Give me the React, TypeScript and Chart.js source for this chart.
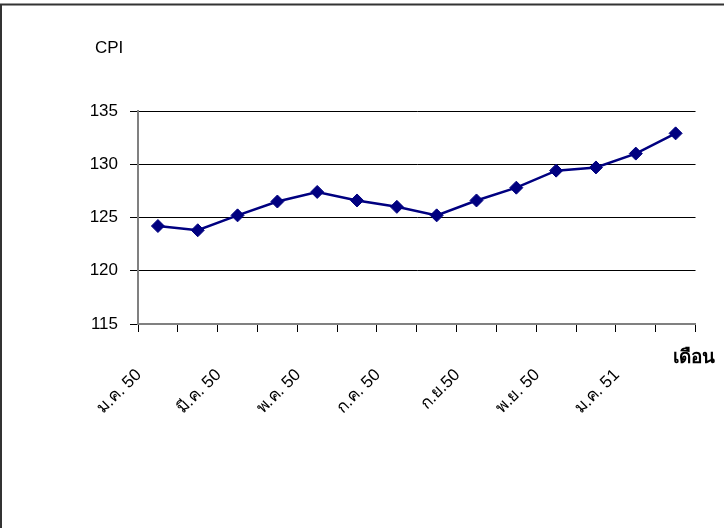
import React, { useEffect, useRef } from "react";
import { Chart, registerables } from "chart.js";

Chart.register(...registerables);

const months: string[] = [
  "ม.ค. 50", "ก.พ. 50", "มี.ค. 50", "เม.ย. 50", "พ.ค. 50", "มิ.ย. 50", "ก.ค. 50",
  "ส.ค. 50", "ก.ย.50", "ต.ค. 50", "พ.ย. 50", "ธ.ค. 50", "ม.ค. 51", "ก.พ. 51",
];
const cpiValues: number[] = [
  124.2, 123.8, 125.2, 126.5, 127.4, 126.6, 126.0, 125.2, 126.6, 127.8, 129.4, 129.7, 131.0, 132.9,
];
const yMin = 115;
const yMax = 135;
const yStep = 5;
const yTitle = "CPI";
const xTitle = "เดือน";

const FONT = "'Liberation Sans', Arial, 'Noto Sans', sans-serif";

export default function App() {
  const ref = useRef<HTMLCanvasElement | null>(null);

  useEffect(() => {
    if (!ref.current) return;
    const decor = {
      id: "decor",
      afterDraw(chart: any) {
        const { ctx, chartArea } = chart;
        ctx.save();
        // frame
        ctx.strokeStyle = "#333";
        ctx.lineWidth = 2;
        ctx.beginPath();
        ctx.moveTo(1, 528);
        ctx.lineTo(1, 4.5);
        ctx.lineTo(724, 4.5);
        ctx.stroke();
        // titles
        ctx.fillStyle = "#000";
        ctx.font = `17px ${FONT}`;
        ctx.textAlign = "left";
        ctx.textBaseline = "alphabetic";
        ctx.fillText(yTitle, chartArea.left - 43, 53);
        ctx.font = `bold 19px ${FONT}`;
        ctx.textAlign = "center";
        ctx.fillText(xTitle, chartArea.right - 2, 363);
        ctx.restore();
      },
    };
    const chart = new Chart(ref.current, {
      type: "line",
      data: {
        labels: months,
        datasets: [
          {
            data: cpiValues,
            borderColor: "#000080",
            backgroundColor: "#000080",
            borderWidth: 2.5,
            pointStyle: "rectRot",
            pointRadius: 6.5,
            pointBorderWidth: 1,
            pointBackgroundColor: "#000080",
            pointBorderColor: "#000080",
            tension: 0,
            fill: false,
          },
        ],
      },
      options: {
        animation: false,
        responsive: false,
        devicePixelRatio: 1,
        layout: { padding: { left: 0, right: 27, top: 111, bottom: 0 } },
        plugins: { legend: { display: false }, tooltip: { enabled: false } },
        scales: {
          x: {
            type: "category",
            offset: true,
            border: { color: "#808080", width: 2 },
            grid: {
              offset: true,
              drawOnChartArea: false,
              drawTicks: true,
              tickLength: 8,
              tickColor: "#000",
            },
            ticks: {
              autoSkip: false,
              maxRotation: 45,
              minRotation: 45,
              padding: 33,
              labelOffset: -19,
              color: "#000",
              font: { family: FONT, size: 17 },
              callback: (_v: any, i: number) => (i % 2 === 0 ? months[i] : ""),
            },
            afterFit: (s: any) => {
              s.height = 528 - 324;
            },
          },
          y: {
            min: yMin,
            max: yMax,
            border: { color: "#808080", width: 2 },
            grid: {
              color: "#000",
              lineWidth: 1,
              drawTicks: true,
              tickLength: 8,
              tickColor: "#000",
            },
            ticks: {
              stepSize: yStep,
              padding: 12,
              color: "#000",
              font: { family: FONT, size: 17 },
            },
            afterFit: (s: any) => {
              s.width = 138;
            },
          },
        },
      },
      plugins: [decor],
    });
    return () => chart.destroy();
  }, []);

  return (
    <div style={{ position: "fixed", left: 0, top: 0, width: 724, height: 528, background: "#fff" }}>
      <canvas ref={ref} width={724} height={528} style={{ display: "block" }} />
    </div>
  );
}
